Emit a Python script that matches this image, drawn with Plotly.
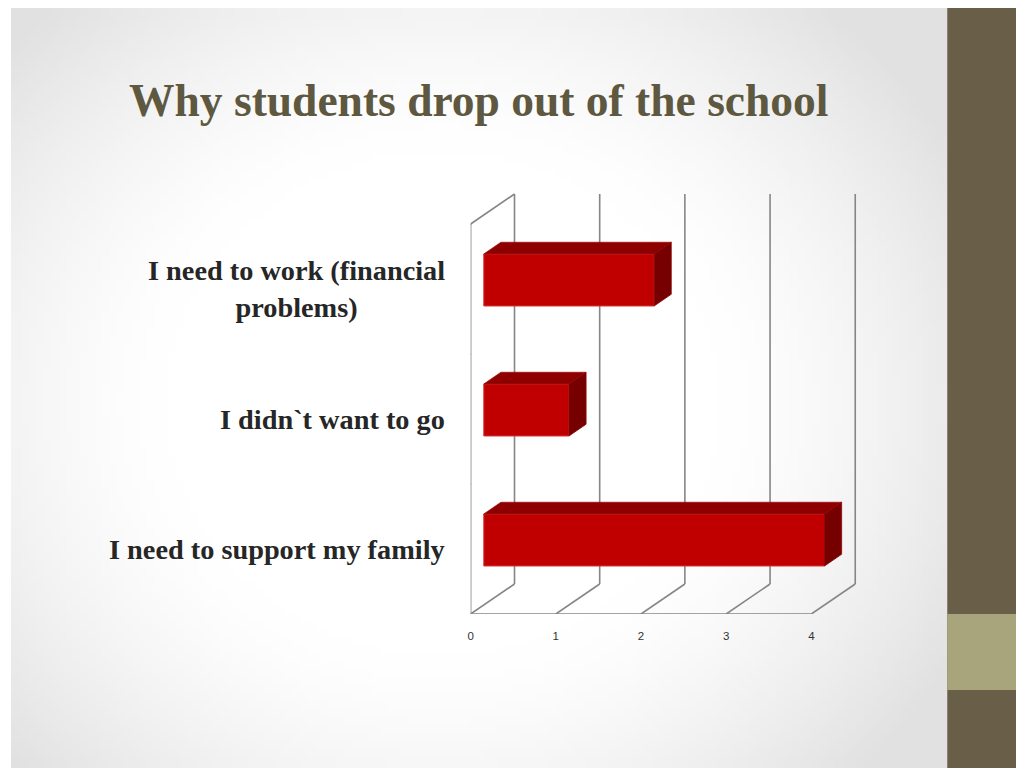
import base64
import struct
import zlib
import plotly.graph_objects as go

# chart data (top to bottom as shown on the slide)
categories = ["I need to work (financial<br>problems)", "I didn`t want to go", "I need to support my family"]
values = [2, 1, 4]
x_ticks = [0, 1, 2, 3, 4]

# 3d look: how far the back wall is shifted (in axis units)
DX = 0.515
DY = 0.231
D0, D1 = 0.3, 0.69   # bar front / back depth
HALF = 0.2           # half bar thickness

# the page has an 8px body margin, so the figure is a bit smaller than the window
OFF = 8
FW, FH = 1024 - OFF, 768 - OFF


def px_x(p):
    return (p - OFF) / FW


def px_y(p):
    return 1 - (p - OFF) / FH


# soft grey vignette for the slide background (tiny png built by hand)
def vignette_png(w=128, h=96):
    rows = b""
    for j in range(h):
        rows += b"\x00"
        for i in range(w):
            dx = (i / (w - 1) - 0.46) / 0.55
            dy = (j / (h - 1) - 0.52) / 0.62
            r = (dx * dx + dy * dy) ** 0.5
            t = min(max((r - 0.55) / 0.6, 0), 1)
            g = int(255 - 30 * t ** 1.4)
            rows += bytes([g, g, g])

    def chunk(tag, data):
        c = struct.pack(">I", len(data)) + tag + data
        return c + struct.pack(">I", zlib.crc32(tag + data) & 0xffffffff)

    png = b"\x89PNG\r\n\x1a\n"
    png += chunk(b"IHDR", struct.pack(">IIBBBBB", w, h, 8, 2, 0, 0, 0))
    png += chunk(b"IDAT", zlib.compress(rows))
    png += chunk(b"IEND", b"")
    return "data:image/png;base64," + base64.b64encode(png).decode()


fig = go.Figure()

# walls and gridlines, drawn below the bars
n = len(categories)
top = n + DY
segs = []
for v in x_ticks:
    segs.append((v, 0, v + DX, DY))
    segs.append((v + DX, DY, v + DX, top))
segs.append((0, 0, x_ticks[-1], 0))
segs.append((0, 0, 0, n))
segs.append((0, n, DX, top))
for k in range(n + 1):
    segs.append((-0.07, k, 0, k))
for x0, y0, x1, y1 in segs:
    fig.add_shape(type="line", xref="x", yref="y", x0=x0, y0=y0, x1=x1, y1=y1,
                  line=dict(color="#868686", width=1.6), layer="below")

# bars: front face from values, top and side faces follow the depth shift
for idx, (cat, v) in enumerate(zip(categories, values)):
    band = n - 1 - idx
    yc = band + 0.5 + D0 * DY
    x0f, x1f = D0 * DX, v + D0 * DX
    x0b, x1b = D1 * DX, v + D1 * DX
    ytf, ybf = yc + HALF, yc - HALF
    shift = (D1 - D0) * DY
    fig.add_trace(go.Bar(
        x=[v], y=[yc], base=[x0f], orientation="h", width=2 * HALF,
        marker=dict(color="#c00000", line=dict(color="#d83030", width=1)),
        hovertext=[cat.replace("<br>", " ")], showlegend=False))
    fig.add_trace(go.Scatter(
        x=[x0f, x1f, x1b, x0b, x0f], y=[ytf, ytf, ytf + shift, ytf + shift, ytf],
        fill="toself", fillcolor="#8e0000", line=dict(color="#a01010", width=0.8),
        mode="lines", hoverinfo="skip", showlegend=False))
    fig.add_trace(go.Scatter(
        x=[x1f, x1b, x1b, x1f, x1f], y=[ybf, ybf + shift, ytf + shift, ytf, ybf],
        fill="toself", fillcolor="#760000", line=dict(color="#8a0505", width=0.8),
        mode="lines", hoverinfo="skip", showlegend=False))
    fig.add_annotation(
        x=px_x(445), xref="paper", y=band + 0.5, yref="y", text="<b>" + cat + "</b>",
        xanchor="right", yanchor="middle", align="center", showarrow=False,
        font=dict(family="Liberation Serif", size=28.3, color="#262626"))

fig.add_annotation(
    x=px_x(124), xref="paper", y=px_y(100), yref="paper", text="<b>Why students drop out of the school</b>",
    xanchor="left", yanchor="middle", showarrow=False,
    font=dict(family="Liberation Serif", size=45.5, color="#5e5840"))

# right hand band of the slide
fig.add_shape(type="rect", xref="paper", yref="paper", x0=px_x(947), x1=1, y0=0, y1=1,
              fillcolor="#695e48", line_width=0, layer="above")
fig.add_shape(type="rect", xref="paper", yref="paper", x0=px_x(947), x1=1,
              y0=px_y(690), y1=px_y(614), fillcolor="#a8a47c", line_width=0, layer="above")

fig.add_layout_image(source=vignette_png(), xref="paper", yref="paper", x=0, y=1,
                     sizex=px_x(947), sizey=1, sizing="stretch", layer="below")

fig.update_layout(
    width=FW, height=FH,
    margin=dict(l=0, r=0, t=0, b=0),
    paper_bgcolor="white", plot_bgcolor="rgba(0,0,0,0)",
    barmode="overlay",
    xaxis=dict(domain=[px_x(469), px_x(862)], range=[0, 4.6], tickvals=x_ticks,
               showgrid=False, zeroline=False, showline=False, ticks="",
               ticklabelstandoff=13, tickfont=dict(family="Liberation Sans", size=11.5, color="#333333")),
    yaxis=dict(domain=[px_y(614), px_y(190)], range=[0, 424 / 130],
               showgrid=False, zeroline=False, showline=False, showticklabels=False),
)

fig.write_html("out.html")
